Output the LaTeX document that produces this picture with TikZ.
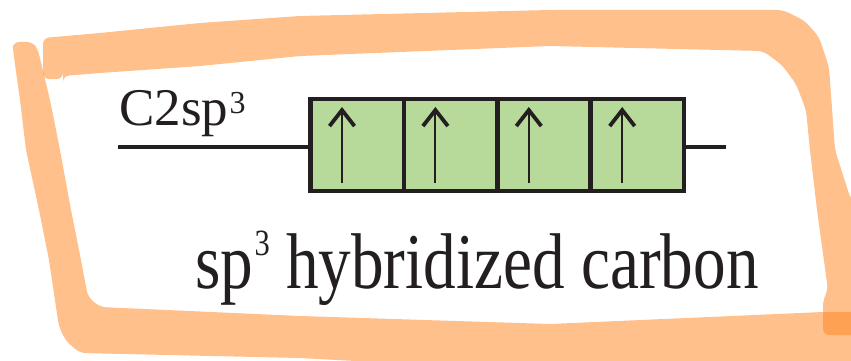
\documentclass[tikz,border=0pt]{standalone}
\usepackage{fontspec}
\setmainfont{Liberation Serif}
\newfontfamily\orbfont{Liberation Serif}
\newfontfamily\capfont[FakeStretch=0.825]{Liberation Serif}
\usetikzlibrary{positioning, arrows.meta}
\definecolor{inkblack}{RGB}{35,31,32}
\definecolor{orbgreen}{RGB}{183,217,154}
\definecolor{hlorange}{RGB}{255,130,25}
\newcommand{\supthree}[2]{\kern1.5pt\raisebox{#1}{\fontsize{#2}{#2}\selectfont 3}}
\tikzset{
  % Orbital boxes
  orbcell/.style  = { draw=inkblack, line width=4.5pt, fill=orbgreen, minimum width=93.4pt,
                       minimum height=92pt, inner sep=0, outer sep=0 },
  orbline/.style  = { draw=inkblack, line width=4pt },
  spinup/.style   = { inkblack, line width=2pt,
                       -{Straight Barb[length=16pt, width=25pt, line width=3.8pt]} },
  orblabel/.style = { font=\orbfont\fontsize{53}{53}\selectfont, text=inkblack, inner sep=0,
                       anchor=base west },
  caplabel/.style = { font=\capfont\fontsize{79}{79}\selectfont, text=inkblack, inner sep=0,
                       anchor=base west },
  % Highlighter frame
  hlstroke/.style = { fill=hlorange, fill opacity=0.5, rounded corners=6pt }
}

\begin{document}
\begin{tikzpicture}[x=1pt, y=-1pt, node distance=0pt]

  \clip (0,0) rectangle (851,361);

  % highlighter strokes round the picture
  \fill[hlstroke] (13,42) -- (33,42) -- (38,50) -- (50,100) -- (60,150) -- (71,210)
    -- (81,260) -- (88,297) -- (100,307) -- (300,316) -- (550,324) -- (823,312)
    -- (860,312) -- (860,375) -- (560,372) -- (300,358) -- (80,353) -- (66,341)
    -- (59,327) -- (49,260) -- (39,210) -- (26,150) -- (20,100) -- (13,50) -- cycle;
  \fill[hlstroke] (43,38) -- (100,33) -- (200,23) -- (300,16) -- (550,10) -- (783,10)
    -- (805,21) -- (819,37) -- (829,67) -- (835,150) -- (851,200) -- (860,200)
    -- (860,335) -- (823,335) -- (823,300) -- (828,290) -- (817,210) -- (810,150)
    -- (806,110) -- (796,84) -- (782,65) -- (763,51) -- (550,46) -- (300,56)
    -- (200,66) -- (100,73) -- (63,76) -- (63,79) -- (43,79) -- cycle;

  \coordinate (lnl) at (118,147);
  \coordinate (lnr) at (726,147);
  \draw[orbline] (lnl) -- (lnr);

  \node[orbcell] (c1) at (357.2,145) {};
  \node[orbcell, right=of c1] (c2) {};
  \node[orbcell, right=of c2] (c3) {};
  \node[orbcell, right=of c3] (c4) {};

  \foreach \i in {1,...,4}
    \draw[spinup] ([xshift=31.5pt, yshift=8pt]c\i.south west)
      -- ([xshift=31.5pt, yshift=-8pt]c\i.north west);

  \node[orblabel] (orbname) at (119,125) {C2sp\supthree{12pt}{32}};
  \node[caplabel] (hybname) at (195,288) {sp\supthree{33pt}{37} hybridized carbon};

\end{tikzpicture}
\end{document}
